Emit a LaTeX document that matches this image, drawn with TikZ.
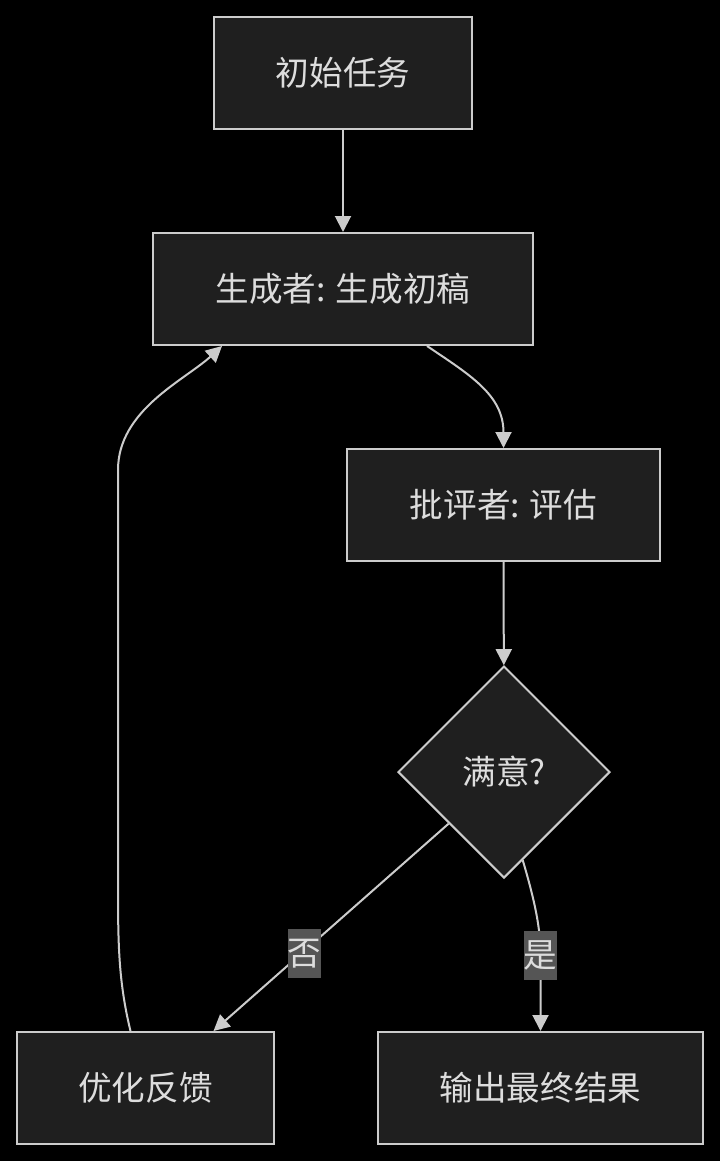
\documentclass[tikz,border=0pt]{standalone}
\usepackage{fontspec}
\setmainfont{Noto Sans CJK SC}
\usetikzlibrary{shapes.geometric, arrows.meta}

\definecolor{boxfill}{HTML}{1F1F1F}
\definecolor{boxline}{HTML}{CCCCCC}
\definecolor{txt}{HTML}{DDDDDD}
\definecolor{tagfill}{HTML}{555555}

\tikzset{
  box/.style={draw=boxline, fill=boxfill, line width=1pt, text=txt, minimum height=56pt, inner sep=0pt},
  ask/.style={diamond, draw=boxline, fill=boxfill, line width=1pt, text=txt, minimum width=106pt, minimum height=106pt, inner sep=0pt},
  link/.style={draw=boxline, line width=1pt, -{Triangle[length=8pt,width=8pt]}},
  tag/.style={fill=tagfill, text=txt, inner sep=0pt, minimum width=16.5pt, minimum height=24.5pt}
}

\begin{document}
\begin{tikzpicture}[x=0.5pt, y=-0.5pt, font=\fontsize{16.8pt}{20pt}\selectfont]
    \fill[black] (0,0) rectangle (720,1161);

    \node[box, minimum width=129pt] (start) at (343,73) {初始任务};
    \node[box, minimum width=190pt] (gen) at (343,289) {生成者: 生成初稿};
    \node[box, minimum width=156.5pt] (crit) at (503.5,505) {批评者: 评估};
    \node[ask] (ok) at (504,772) {满意?};
    \node[box, minimum width=128.5pt] (fix) at (145.5,1088) {优化反馈};
    \node[box, minimum width=162.5pt] (done) at (540.5,1088) {输出最终结果};

    \draw[link] (start) -- (gen);
    \draw[link] ([xshift=42pt]gen.south) .. controls (470,375) and (503.5,395) .. (crit.north);
    \draw[link] (crit) -- (ok);
    \draw[link] (ok.223) -- ([xshift=34pt]fix.north) node[tag, pos=0.625, xshift=1.5pt] {否};
    \draw[link] (ok.-78) .. controls (536,905) and (540.5,930) .. (540.5,955) node[tag] {是} -- (done.north);
    \draw[link] ([xshift=-7.5pt]fix.north) .. controls (118,980) and (118,940) .. (118,880)
        -- (118,470) .. controls (118,410) and (185,380) .. ([xshift=-60.5pt]gen.south);
\end{tikzpicture}
\end{document}
